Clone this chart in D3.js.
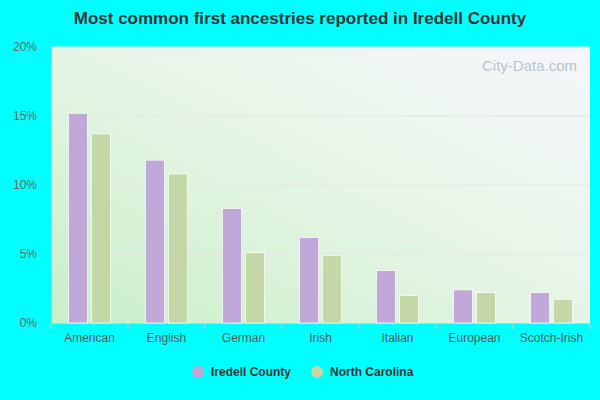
<!DOCTYPE html><html><head><meta charset="utf-8"><script src="https://cdn.jsdelivr.net/npm/d3@7"></script>
<style>body{margin:0;background:#00ffff}svg{font-family:Arial,"Liberation Sans",sans-serif}</style></head><body><svg width="600" height="400"></svg>
<script>
const categories=["American","English","German","Irish","Italian","European","Scotch-Irish"];
const iredell=[15.2,11.8,8.3,6.2,3.8,2.4,2.2];
const nc=[13.7,10.8,5.1,4.9,2.0,2.2,1.7];
const seriesNames=["Iredell County","North Carolina"];
const colors=["#c0a8d8","#c4d7a6"];
const yTicks=[0,5,10,15,20];
const svg=d3.select("svg");
const m={l:51,r:590,t:47,b:323};
const defs=svg.append("defs");
const g=defs.append("linearGradient").attr("id","bg").attr("x1","0").attr("y1","1").attr("x2","1").attr("y2","0");
g.append("stop").attr("offset","0").attr("stop-color","#c9efc9");
g.append("stop").attr("offset","0.6").attr("stop-color","#eaf6ea");
g.append("stop").attr("offset","1").attr("stop-color","#f6f6fc");
svg.append("rect").attr("x",m.l).attr("y",m.t).attr("width",m.r-m.l).attr("height",m.b-m.t).attr("fill","url(#bg)");
const x=d3.scaleBand().domain(categories).range([m.l,m.r]);
const y=d3.scaleLinear().domain([0,20]).range([m.b,m.t]);
svg.append("g").selectAll("line").data(yTicks.slice(1)).join("line").attr("x1",m.l).attr("x2",m.r).attr("y1",d=>y(d)).attr("y2",d=>y(d)).attr("stroke","#e6e6e6");
const yAx=svg.append("g").attr("transform",`translate(${m.l},0)`).call(d3.axisLeft(y).tickValues(yTicks).tickFormat(d=>d+"%").tickSize(0).tickPadding(14));
yAx.select(".domain").remove();
yAx.selectAll("text").attr("fill","#666").attr("font-size",12);
const xAx=svg.append("g").attr("transform",`translate(0,${m.b})`).call(d3.axisBottom(x).tickSize(0).tickPadding(10));
xAx.select(".domain").attr("stroke","#ccc");
xAx.selectAll("text").attr("fill","#555").attr("font-size",12);
svg.append("g").selectAll("line").data(categories.concat(["_end"])).join("line")
 .attr("x1",(d,i)=>m.l+i*x.bandwidth()).attr("x2",(d,i)=>m.l+i*x.bandwidth()).attr("y1",m.b).attr("y2",m.b+6).attr("stroke","#ccc");
const bw=19,gap=4;
[iredell,nc].forEach((s,k)=>{
 svg.append("g").selectAll("rect").data(s).join("rect")
  .attr("x",(d,i)=>x(categories[i])+x.bandwidth()/2-bw-gap/2+k*(bw+gap)).attr("width",bw)
  .attr("y",d=>y(d)).attr("height",d=>m.b-y(d)).attr("fill",colors[k]).attr("stroke","#fff").attr("stroke-width",0.7);
});
svg.append("text").attr("x",300).attr("y",24).attr("text-anchor","middle").attr("font-size",17).attr("font-weight","bold").attr("fill","#333").text("Most common first ancestries reported in Iredell County");
const lx=[198,317];
seriesNames.forEach((n,k)=>{
 svg.append("circle").attr("cx",lx[k]).attr("cy",372).attr("r",6).attr("fill",colors[k]);
 svg.append("text").attr("x",lx[k]+13).attr("y",376).attr("font-size",12).attr("font-weight","bold").attr("fill","#333").text(n);
});
svg.append("text").attr("x",577).attr("y",71).attr("text-anchor","end").attr("font-size",15).attr("fill","#b8c4cc").text("City-Data.com");
</script></body></html>
